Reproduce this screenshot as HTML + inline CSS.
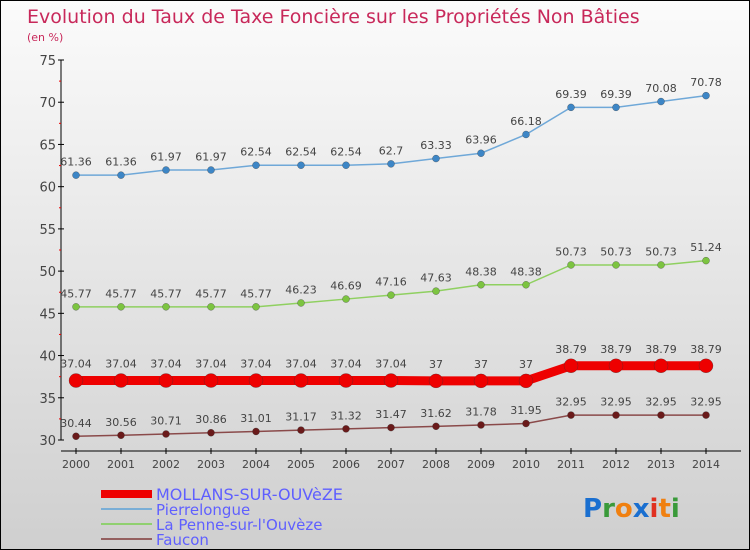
<!DOCTYPE html>
<html><head><meta charset="utf-8"><style>
body{margin:0}
#wrap{width:748px;height:548px;border:1px solid #000;background:linear-gradient(#fbfbfb,#cfcfcf);position:relative;overflow:hidden;font-family:"DejaVu Sans","Liberation Sans",sans-serif}
</style></head><body>
<div id="wrap">
<svg id="svg" width="748" height="548"></svg>
</div>
<script>
const years=[2000,2001,2002,2003,2004,2005,2006,2007,2008,2009,2010,2011,2012,2013,2014];
const mollans=[37.04,37.04,37.04,37.04,37.04,37.04,37.04,37.04,37,37,37,38.79,38.79,38.79,38.79];
const pierre=[61.36,61.36,61.97,61.97,62.54,62.54,62.54,62.7,63.33,63.96,66.18,69.39,69.39,70.08,70.78];
const penne=[45.77,45.77,45.77,45.77,45.77,46.23,46.69,47.16,47.63,48.38,48.38,50.73,50.73,50.73,51.24];
const faucon=[30.44,30.56,30.71,30.86,31.01,31.17,31.32,31.47,31.62,31.78,31.95,32.95,32.95,32.95,32.95];
const yTicks=[30,35,40,45,50,55,60,65,70,75];
const NS="http://www.w3.org/2000/svg";const svg=document.getElementById('svg');
function X(i){return 75+i*45;}
function Y(v){return 439-(v-30)*(380/45);}
function el(t,a,p){const e=document.createElementNS(NS,t);for(const k in a)e.setAttribute(k,a[k]);(p||svg).appendChild(e);return e;}
let t=el('text',{x:26,y:22,fill:'#c8285a','font-size':19});t.textContent='Evolution du Taux de Taxe Foncière sur les Propriétés Non Bâties';


t=el('text',{x:26,y:40,fill:'#c8285a','font-size':11});t.textContent='(en %)';


let ax=el('line',{x1:60,y1:Y(75),x2:60,y2:Y(30),stroke:'#000'});


ax=el('line',{x1:60,y1:450,x2:740,y2:450,stroke:'#000'});


yTicks.forEach((v,k)=>{el('line',{x1:57,y1:Y(v),x2:63,y2:Y(v),stroke:'#000'});
 if(k<yTicks.length-1)el('line',{x1:58,y1:Y(v+2.5),x2:60,y2:Y(v+2.5),stroke:'#e00'});
 const l=el('text',{x:55,y:Y(v)+5,'text-anchor':'end','font-size':13,fill:'#444'});l.textContent=v;
 
 });
years.forEach((yr,i)=>{el('line',{x1:X(i),y1:447,x2:X(i),y2:453,stroke:'#000'});
 const l=el('text',{x:X(i),y:467,'text-anchor':'middle','font-size':11,fill:'#444'});l.textContent=yr;
 
 });
function series(vals,color,w,r,name,dotFill){
 const g=el('g',{});
 
 
 el('polyline',{points:vals.map((v,i)=>X(i)+','+Y(v)).join(' '),fill:'none',stroke:color,'stroke-width':w},g);
 vals.forEach((v,i)=>{const c=el('circle',{cx:X(i),cy:Y(v),r:r,fill:dotFill,stroke:'#333','stroke-width':0.3},g);
  
  
  const l=el('text',{x:X(i),y:Y(v)-(r+6),'text-anchor':'middle','font-size':11,fill:'#444'},g);l.textContent=v;
  
  });
}
series(pierre,'#6fa8d8',1.5,3.5,'pierrelongue-line','#3d86c6');
series(penne,'#8fd060',1.5,3.5,'penne-line','#7cc440');
series(faucon,'#8a4a4a',1.5,3.5,'faucon-line','#6a1a1a');
series(mollans,'#ee0000',9,7,'mollans-line','#ee0000');
const leg=[['MOLLANS-SUR-OUVèZE','#ee0000',8],['Pierrelongue','#7aaed6',2],['La Penne-sur-l\'Ouvèze','#90d070',2],['Faucon','#946060',2]];
leg.forEach((d,k)=>{const y=493+k*15;const g=el('g',{});
 
 
 el('line',{x1:100,y1:y,x2:151,y2:y,stroke:d[1],'stroke-width':d[2]},g);
 const l=el('text',{x:155,y:y+6,'font-size':k==0?16:15,fill:'#5f5fff'},g);l.textContent=d[0];});
const logo=el('text',{x:582,y:516,'font-size':26,'font-family':'DejaVu Sans,sans-serif','font-weight':'bold'});


[['P','#1a6fd0'],['r','#3a9a3a'],['o','#f08010'],['x','#1a6fd0'],['i','#e03020'],['t','#f08010'],['i','#3a9a3a']].forEach(c=>{const s=el('tspan',{fill:c[1]},logo);s.textContent=c[0];});
</script>
</body></html>
